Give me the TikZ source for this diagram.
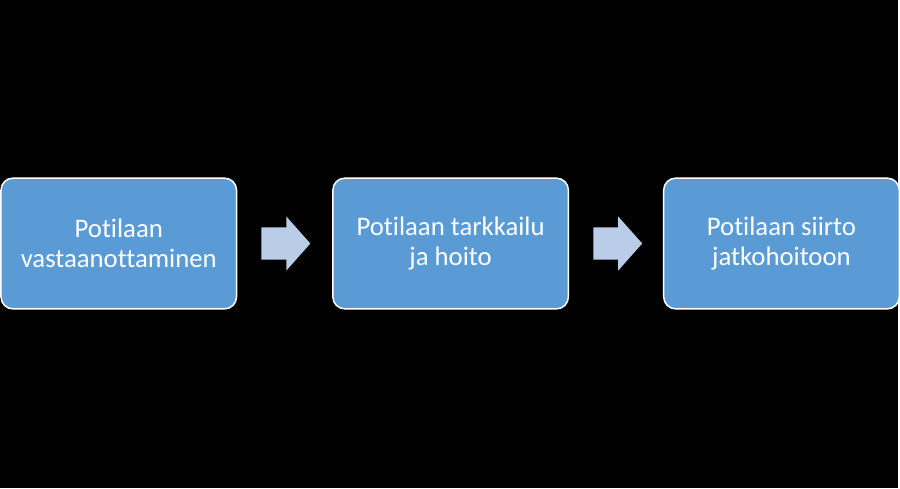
\documentclass[tikz,border=0pt]{standalone}
\usepackage{fontspec}
\setmainfont{Carlito}[Ligatures=NoCommon]
\usetikzlibrary{positioning,shapes.arrows}
\definecolor{boxblue}{HTML}{5B9BD5}
\definecolor{arrowblue}{HTML}{B9CCE8}

\begin{document}
\begin{tikzpicture}[
  stage/.style={draw=white, line width=1.5pt, fill=boxblue, rounded corners=12pt,
    minimum width=236pt, minimum height=131pt, text=white, align=center,
    font=\fontsize{26.8}{30}\selectfont},
  flow/.style={single arrow, fill=arrowblue, draw=none, inner xsep=0pt, inner ysep=16pt,
    minimum height=49pt, single arrow head extend=11pt,
    single arrow tip angle=96.8}
]
\fill[black] (0,0) rectangle (900pt,489pt);
\node[stage] (b1) at (119pt,245pt) {Potilaan\\vastaanottaminen};
\node[flow, right=24pt of b1] (a1) {};
\node[stage, right=95pt of b1] (b2) {Potilaan tarkkailu\\ja hoito};
\node[flow, right=24pt of b2] (a2) {};
\node[stage, right=94pt of b2] (b3) {Potilaan siirto\\jatkohoitoon};
\end{tikzpicture}
\end{document}
